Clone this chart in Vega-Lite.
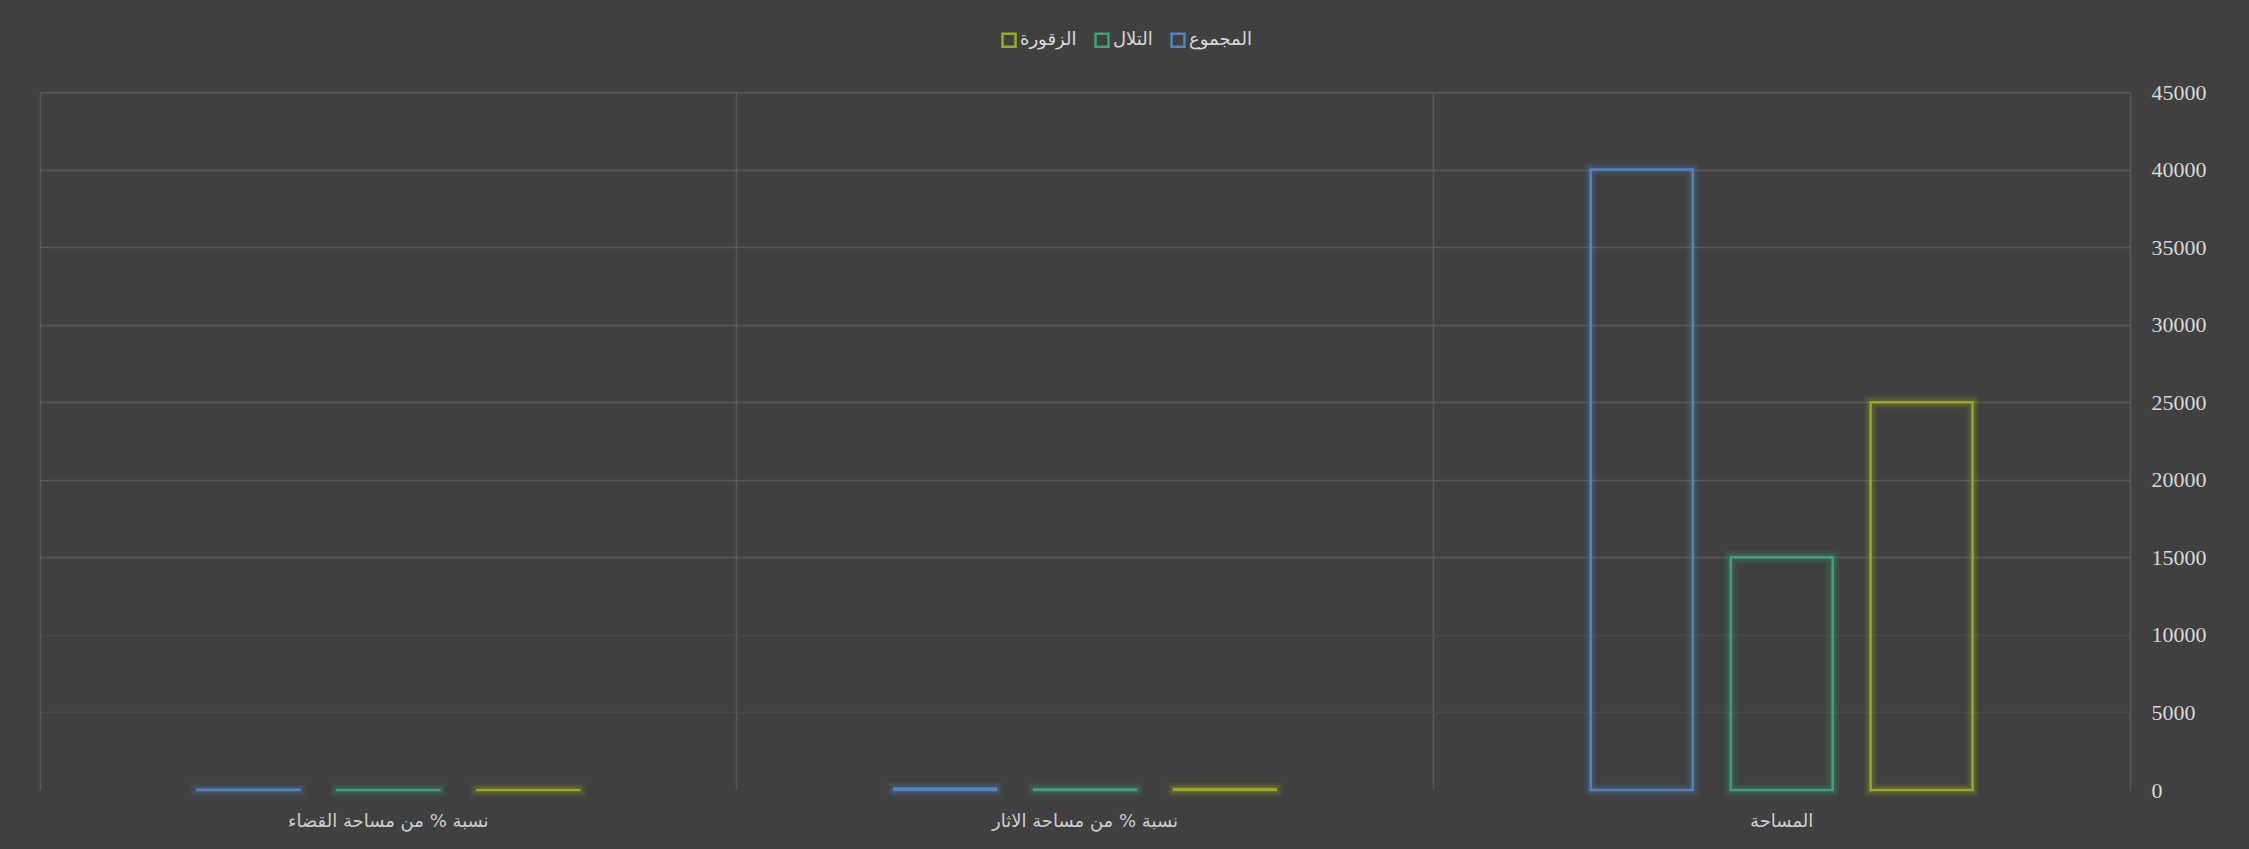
{
  "$schema": "https://vega.github.io/schema/vega-lite/v6.json",
  "autosize": {"type": "none"},
  "width": 2090,
  "height": 698,
  "padding": {"left": 40, "top": 92, "right": 119, "bottom": 59},
  "background": "#404040",
  "config": {
    "view": {"stroke": null},
    "font": "DejaVu Sans"
  },
  "data": {
    "values": [
      {"category": "المساحة", "series": "المجموع", "value": 40000},
      {"category": "المساحة", "series": "التلال", "value": 15000},
      {"category": "المساحة", "series": "الزقورة", "value": 25000},
      {"category": "نسبة % من مساحة الاثار", "series": "المجموع", "value": 100},
      {"category": "نسبة % من مساحة الاثار", "series": "التلال", "value": 37.5},
      {"category": "نسبة % من مساحة الاثار", "series": "الزقورة", "value": 62.5},
      {"category": "نسبة % من مساحة  القضاء", "series": "المجموع", "value": 12},
      {"category": "نسبة % من مساحة  القضاء", "series": "التلال", "value": 4.5},
      {"category": "نسبة % من مساحة  القضاء", "series": "الزقورة", "value": 7.5}
    ]
  },
  "encoding": {
    "x": {
      "field": "category",
      "type": "nominal",
      "sort": ["نسبة % من مساحة  القضاء", "نسبة % من مساحة الاثار", "المساحة"],
      "scale": {"paddingInner": 0, "paddingOuter": 0},
      "axis": {
        "title": null,
        "labelAngle": 0,
        "labelFont": "DejaVu Sans",
        "labelFontSize": 18,
        "labelColor": "#cfcfcf",
        "labelPadding": 22,
        "labelLimit": 600,
        "ticks": false,
        "domain": false,
        "grid": true,
        "bandPosition": 0,
        "gridColor": "#585858",
        "gridWidth": 1.5
      }
    },
    "xOffset": {
      "field": "series",
      "type": "nominal",
      "scale": {
        "domain": ["_start", "المجموع", "التلال", "الزقورة", "_end"],
        "paddingInner": 0.271,
        "paddingOuter": 0.125
      }
    },
    "y": {
      "field": "value",
      "type": "quantitative",
      "scale": {"domain": [0, 45000], "nice": false},
      "axis": {
        "title": null,
        "orient": "right",
        "values": [0, 5000, 10000, 15000, 20000, 25000, 30000, 35000, 40000, 45000],
        "format": "d",
        "labelFont": "Liberation Serif",
        "labelFontSize": 22,
        "labelColor": "#d9d9d9",
        "labelPadding": 21,
        "ticks": false,
        "domain": true,
        "domainColor": "#585858",
        "domainWidth": 1.5,
        "gridWidth": 1.5,
        "gridColor": {
          "condition": [
            {"test": "datum.value === 0", "value": "#404040"},
            {"test": "datum.value <= 10000", "value": "#4a4a4a"}
          ],
          "value": "#5a5a5a"
        }
      }
    },
    "stroke": {
      "field": "series",
      "type": "nominal",
      "scale": {
        "domain": ["الزقورة", "التلال", "المجموع"],
        "range": ["#9aaa1f", "#3ea377", "#5284bf"]
      },
      "legend": {
        "title": null,
        "orient": "none",
        "direction": "horizontal",
        "legendX": 960,
        "legendY": -61,
        "symbolType": "square",
        "symbolSize": 170,
        "symbolStrokeWidth": 2.5,
        "symbolFillColor": "transparent",
        "labelFont": "DejaVu Sans",
        "labelFontSize": 18,
        "labelColor": "#d9d9d9",
        "labelOffset": 2,
        "columnPadding": 13
      }
    }
  },
  "layer": [
    {
      "mark": {"type": "bar", "fill": "transparent", "strokeWidth": 13, "strokeOpacity": 0.1}
    },
    {
      "mark": {"type": "bar", "fill": "transparent", "strokeWidth": 8, "strokeOpacity": 0.18}
    },
    {
      "mark": {"type": "bar", "fill": "transparent", "strokeWidth": 2.5}
    }
  ]
}
